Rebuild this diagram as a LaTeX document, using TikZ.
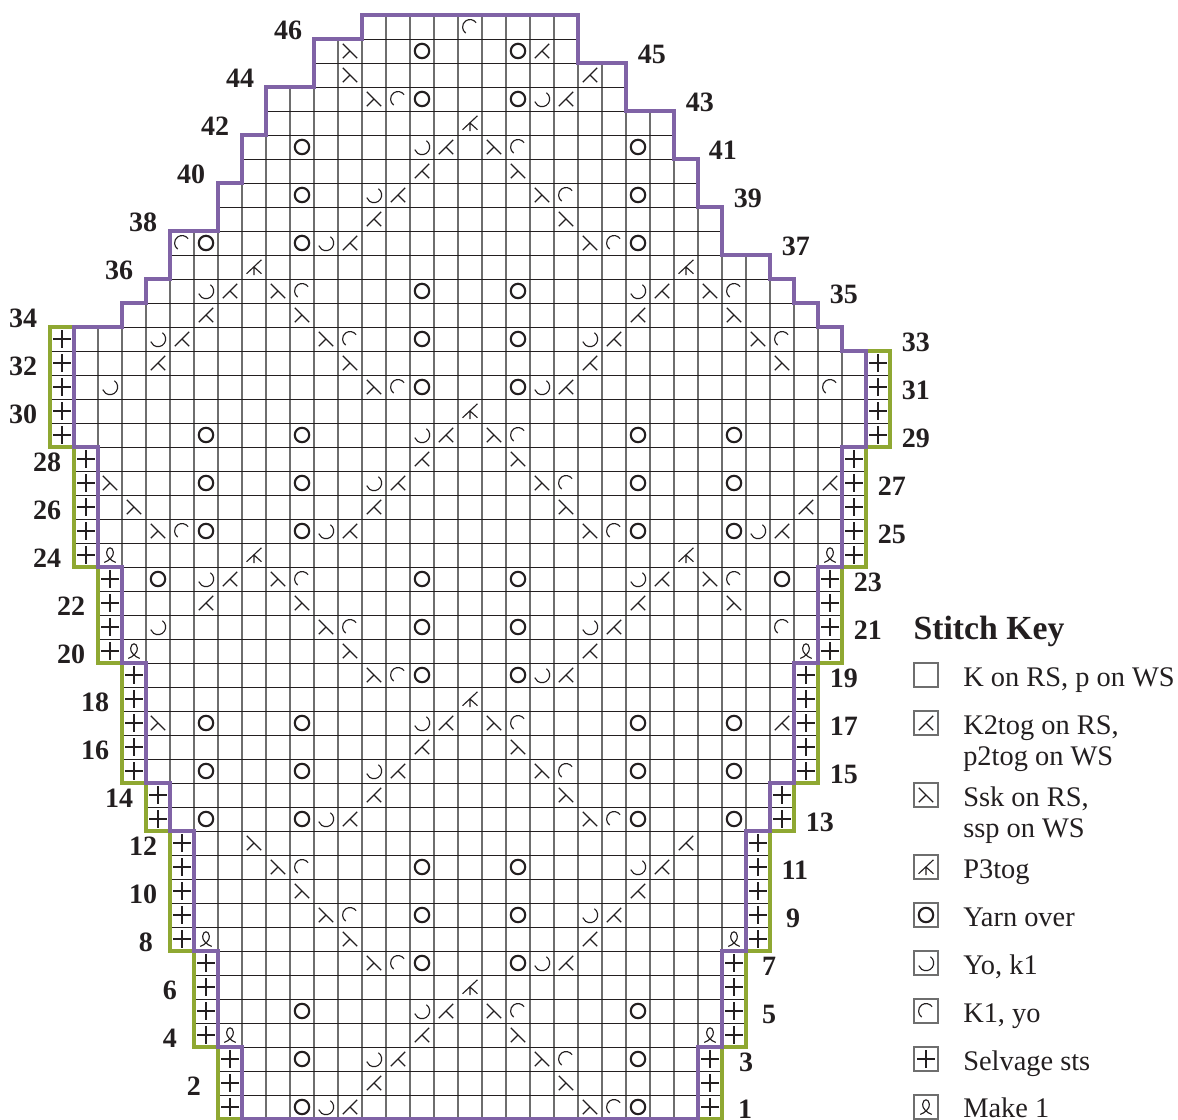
\documentclass[tikz,border=0pt]{standalone}
\usepackage{fontspec}
\setmainfont{Liberation Serif}
\definecolor{inkdark}{HTML}{231F20}
\definecolor{gridgray}{HTML}{6E6E6E}
\definecolor{edgepurple}{HTML}{8063A6}
\definecolor{edgegreen}{HTML}{8FA832}
% outer edge of the chart, in cells
\newcommand{\chartouter}{(7,0) -- (7,3) -- (6,3) -- (6,7) -- (5,7) -- (5,12) -- (4,12) -- (4,14) -- (3,14) -- (3,19) -- (2,19) -- (2,23) -- (1,23) -- (1,28) -- (0,28) -- (0,33) -- (3,33) -- (3,34) -- (4,34) -- (4,35) -- (5,35) -- (5,37) -- (7,37) -- (7,39) -- (8,39) -- (8,41) -- (9,41) -- (9,43) -- (11,43) -- (11,45) -- (13,45) -- (13,46) -- (22,46) -- (22,44) -- (24,44) -- (24,42) -- (26,42) -- (26,40) -- (27,40) -- (27,38) -- (28,38) -- (28,36) -- (30,36) -- (30,35) -- (31,35) -- (31,34) -- (32,34) -- (32,33) -- (33,33) -- (33,32) -- (35,32) -- (35,28) -- (34,28) -- (34,23) -- (33,23) -- (33,19) -- (32,19) -- (32,14) -- (31,14) -- (31,12) -- (30,12) -- (30,7) -- (29,7) -- (29,3) -- (28,3) -- (28,0) -- cycle}
\tikzset{
    thinsym/.style={draw=inkdark,line width=0.85pt},
    thicksym/.style={draw=inkdark,line width=1.6pt},
    rownum/.style={font=\fontsize{21}{21}\selectfont\bfseries,text=inkdark,inner sep=0pt},
    keybox/.style={draw=gridgray,line width=0.8pt,minimum size=18pt,inner sep=0pt,outer sep=0pt},
    keytext/.style={font=\fontsize{21.3}{23.6}\selectfont,text=inkdark,inner sep=0pt,anchor=base west,align=left},
    pics/ktog/.style={code={
        \draw[thinsym] (-0.3,-0.3) -- (0.3,0.3) (0,0) -- (0.3,-0.3);}},
    pics/ssk/.style={code={
        \draw[thinsym] (-0.3,0.3) -- (0.3,-0.3) (0,0) -- (-0.3,-0.3);}},
    pics/ptog/.style={code={
        \draw[thinsym] (-0.31,-0.28) -- (0.31,0.3) (0,0) -- (0.31,-0.28) (0,0.03) -- (0,-0.34);}},
    pics/yarnover/.style={code={
        \draw[thicksym] (0,0) circle[radius=0.3];}},
    pics/yok/.style={code={
        \draw[thinsym] (55:0.32) arc[start angle=55,end angle=-160,radius=0.32];}},
    pics/kyo/.style={code={
        \draw[thinsym] (35:0.31) arc[start angle=35,end angle=235,radius=0.31];}},
    pics/selvage/.style={code={
        \draw[thicksym] (-0.36,0) -- (0.36,0) (0,-0.36) -- (0,0.36);}},
    pics/makeone/.style={code={
        \draw[thinsym] (-0.24,-0.31) .. controls (-0.05,-0.25) and (0.17,-0.05) .. (0.14,0.12)
            .. controls (0.11,0.36) and (-0.11,0.36) .. (-0.14,0.12)
            .. controls (-0.17,-0.05) and (0.05,-0.25) .. (0.24,-0.31);}},
}
\begin{document}
\begin{tikzpicture}[x=18pt,y=18pt]
\path[use as bounding box] (-2.0833,-0.0417) rectangle (47,46.625);

% grid
\begin{scope}
\clip \chartouter;
\foreach \c in {0,...,35} \draw[gridgray,line width=0.95pt] (\c,0) -- (\c,46);
\foreach \r in {0,...,46} \draw[inkdark,line width=0.7pt] (0,\r) -- (35,\r);
\end{scope}

% selvage edges
\draw[edgegreen,line width=2.6pt] (8,0) -- (7,0) -- (7,3) -- (6,3) -- (6,7) -- (5,7) -- (5,12) -- (4,12) -- (4,14) -- (3,14) -- (3,19) -- (2,19) -- (2,23) -- (1,23) -- (1,28) -- (0,28) -- (0,33) -- (1,33);
\draw[edgegreen,line width=2.6pt] (27,0) -- (28,0) -- (28,3) -- (29,3) -- (29,7) -- (30,7) -- (30,12) -- (31,12) -- (31,14) -- (32,14) -- (32,19) -- (33,19) -- (33,23) -- (34,23) -- (34,28) -- (35,28) -- (35,32) -- (34,32);
\draw[edgepurple,line width=3.2pt] (8,0) -- (8,3) -- (7,3) -- (7,7) -- (6,7) -- (6,12) -- (5,12) -- (5,14) -- (4,14) -- (4,19) -- (3,19) -- (3,23) -- (2,23) -- (2,28) -- (1,28) -- (1,33) -- (3,33) -- (3,34) -- (4,34) -- (4,35) -- (5,35) -- (5,37) -- (7,37) -- (7,39) -- (8,39) -- (8,41) -- (9,41) -- (9,43) -- (11,43) -- (11,45) -- (13,45) -- (13,46) -- (22,46) -- (22,44) -- (24,44) -- (24,42) -- (26,42) -- (26,40) -- (27,40) -- (27,38) -- (28,38) -- (28,36) -- (30,36) -- (30,35) -- (31,35) -- (31,34) -- (32,34) -- (32,33) -- (33,33) -- (33,32) -- (34,32) -- (34,28) -- (33,28) -- (33,23) -- (32,23) -- (32,19) -- (31,19) -- (31,14) -- (30,14) -- (30,12) -- (29,12) -- (29,7) -- (28,7) -- (28,3) -- (27,3) -- (27,0) -- cycle;

% stitches: row/columns
\foreach \r/\cols in {45/{15,19},43/{15,19},41/{10,24},39/{10,24},37/{6,10,24},35/{15,19},33/{15,19},31/{15,19},29/{6,10,24,28},27/{6,10,24,28},25/{6,10,24,28},23/{4,15,19,30},21/{15,19},19/{15,19},17/{6,10,24,28},15/{6,10,24,28},13/{6,10,24,28},11/{15,19},9/{15,19},7/{15,19},5/{10,24},3/{10,24},1/{10,24}}
    \foreach \c in \cols \pic at (\c+0.5,\r-0.5) {yarnover};
\foreach \r/\cols in {45/{20},44/{22},43/{21},41/{16},40/{15},39/{14},38/{13},37/{12},35/{7,25},34/{6,24},33/{5,23},32/{4,22},31/{21},29/{16},28/{15},27/{14,32},26/{13,31},25/{12,30},23/{7,25},22/{6,24},21/{23},20/{22},19/{21},17/{16,30},16/{15},15/{14},14/{13},13/{12},12/{26},11/{25},10/{24},9/{23},8/{22},7/{21},5/{16},4/{15},3/{14},2/{13},1/{12}}
    \foreach \c in \cols \pic at (\c+0.5,\r-0.5) {ktog};
\foreach \r/\cols in {45/{12},44/{12},43/{13},41/{18},40/{19},39/{20},38/{21},37/{22},35/{9,27},34/{10,28},33/{11,29},32/{12,30},31/{13},29/{18},28/{19},27/{2,20},26/{3,21},25/{4,22},23/{9,27},22/{10,28},21/{11},20/{12},19/{13},17/{4,18},16/{19},15/{20},14/{21},13/{22},12/{8},11/{9},10/{10},9/{11},8/{12},7/{13},5/{18},4/{19},3/{20},2/{21},1/{22}}
    \foreach \c in \cols \pic at (\c+0.5,\r-0.5) {ssk};
\foreach \r/\cols in {43/{20},41/{15},39/{13},37/{11},35/{6,24},33/{4,22},31/{2,20},29/{15},27/{13},25/{11,29},23/{6,24},21/{4,22},19/{20},17/{15},15/{13},13/{11},11/{24},9/{22},7/{20},5/{15},3/{13},1/{11}}
    \foreach \c in \cols \pic at (\c+0.5,\r-0.5) {yok};
\foreach \r/\cols in {46/{17},43/{14},41/{19},39/{21},37/{5,23},35/{10,28},33/{12,30},31/{14,32},29/{19},27/{21},25/{5,23},23/{10,28},21/{12,30},19/{14},17/{19},15/{21},13/{23},11/{10},9/{12},7/{14},5/{19},3/{21},1/{23}}
    \foreach \c in \cols \pic at (\c+0.5,\r-0.5) {kyo};
\foreach \r/\cols in {42/{17},36/{8,26},30/{17},24/{8,26},18/{17},6/{17}}
    \foreach \c in \cols \pic at (\c+0.5,\r-0.5) {ptog};
\foreach \r/\cols in {24/{2,32},20/{3,31},8/{6,28},4/{7,27}}
    \foreach \c in \cols \pic at (\c+0.5,\r-0.5) {makeone};
\foreach \c/\rows in {7/{1,2,3},6/{4,5,6,7},5/{8,9,10,11,12},4/{13,14},3/{15,16,17,18,19},2/{20,21,22,23},1/{24,25,26,27,28},0/{29,30,31,32,33},27/{1,2,3},28/{4,5,6,7},29/{8,9,10,11,12},30/{13,14},31/{15,16,17,18,19},32/{20,21,22,23},33/{24,25,26,27,28},34/{29,30,31,32}}
    \foreach \r in \rows \pic at (\c+0.5,\r-0.5) {selvage};

% row numbers
\foreach \r/\x in {46/9.92,44/7.92,42/6.88,40/5.88,38/3.88,36/2.88,34/-1.12,32/-1.12,30/-1.12,28/-0.12,26/-0.12,24/-0.12,22/0.88,20/0.88,18/1.88,16/1.88,14/2.88,12/3.88,10/3.88,8/4,6/5,4/5,2/6,
    45/25.08,43/27.08,41/28.04,39/29.08,37/31.08,35/33.08,33/36.08,31/36.08,29/36.08,27/35.08,25/35.08,23/34.08,21/34.08,19/33.08,17/33.08,15/33.08,13/32.08,11/31.04,9/30.96,7/29.96,5/29.96,3/29}
    \node[rownum] (row\r) at (\x,\r-0.625) {\r};
\node[rownum] (row1) at (28.96,0.42) {1};

% key
\node[keybox] (keyknit) at (36.5,18.5) {};
\node[keytext] (labelknit) at ([xshift=18.75pt,yshift=0.5pt]keyknit.south east) {K on RS, p on WS};
\node[font=\fontsize{25.3}{25.3}\selectfont\bfseries,text=inkdark,inner sep=0pt,anchor=base west] (keytitle) at ([xshift=-0.5pt,yshift=17.5pt]keyknit.north west) {Stitch Key};
\foreach \r/\sym/\dy/\txt in {16.5/ktog/-23.1pt/{K2tog on RS,\\p2tog on WS},13.5/ssk/-23.1pt/{Ssk on RS,\\ssp on WS},10.5/ptog/0.5pt/{P3tog},8.5/yarnover/0.5pt/{Yarn over},6.5/yok/0.5pt/{Yo, k1},4.5/kyo/0.5pt/{K1, yo},2.5/selvage/0.5pt/{Selvage sts},0.5/makeone/0.75pt/{Make 1}}{
    \node[keybox] (key\sym) at (36.5,\r) {};
    \pic at (key\sym.center) {\sym};
    \node[keytext] (label\sym) at ([xshift=18.75pt,yshift=\dy]key\sym.south east) {\txt};
}
\end{tikzpicture}
\end{document}
